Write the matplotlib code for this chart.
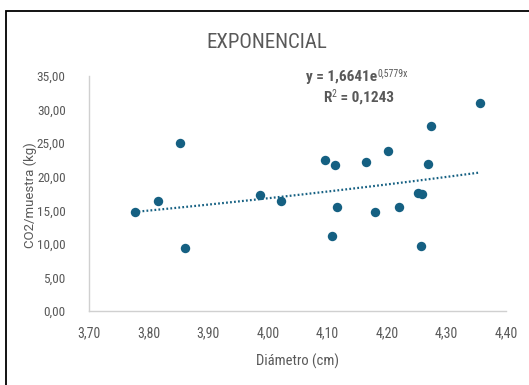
import numpy as np
import matplotlib.pyplot as plt
from matplotlib.patches import Rectangle

# data
diametro = [3.776, 3.816, 3.852, 3.860, 3.987, 4.022, 4.096, 4.113, 4.108, 4.116,
            4.165, 4.180, 4.202, 4.221, 4.252, 4.259, 4.257, 4.269, 4.274, 4.356]
co2 = [14.70, 16.35, 25.08, 9.42, 17.35, 16.45, 22.48, 21.79, 11.22, 15.45,
       22.24, 14.70, 23.83, 15.55, 17.60, 17.45, 9.72, 21.94, 27.57, 30.96]

# exponential trend y = a*e^(bx)
a_coef = 1.6641
b_coef = 0.5779

x_ticks = [3.70, 3.80, 3.90, 4.00, 4.10, 4.20, 4.30, 4.40]
y_ticks = [0, 5, 10, 15, 20, 25, 30, 35]

blue = '#156082'
gray = '#595959'
narrow = ['Roboto Condensed', 'DejaVu Sans']

fig = plt.figure(figsize=(5.29, 3.85), dpi=100)
ax = fig.add_axes([0.1688, 0.1922, 0.7877, 0.6104])

ax.scatter(diametro, co2, s=46, color=blue, zorder=3, linewidths=0)

xt = np.linspace(min(diametro), max(diametro), 100)
yt = a_coef * np.exp(b_coef * xt)
ax.plot(xt, yt, color=blue, lw=1.6, linestyle=(0, (0.8, 1.0)), zorder=2)

ax.set_xlim(3.70, 4.40)
ax.set_ylim(0, 35)
ax.set_xticks(x_ticks)
ax.set_yticks(y_ticks)
ax.set_xticklabels([f"{v:.2f}".replace('.', ',') for v in x_ticks],
                   family=narrow, fontsize=10, color=gray)
ax.set_yticklabels([f"{v:.2f}".replace('.', ',') for v in y_ticks],
                   family=narrow, fontsize=9.5, color=gray)
ax.tick_params(axis='y', length=0, pad=17)
ax.tick_params(axis='x', length=0, pad=11)

for s in ['top', 'right']:
    ax.spines[s].set_visible(False)
for s in ['left', 'bottom']:
    ax.spines[s].set_color('#d0d0d0')
    ax.spines[s].set_linewidth(1)

ax.set_xlabel('Diámetro (cm)', family=narrow, fontsize=10.5, color=gray, labelpad=10)
fig.text(30 / 529, 1 - 195 / 385, 'CO2/muestra (kg)', rotation=90, family=['Roboto', 'DejaVu Sans'],
         fontsize=9.5, color=gray, ha='center', va='center')

fig.text(267 / 529, 1 - 42 / 385, 'EXPONENCIAL', family=narrow, fontsize=15,
         color=gray, ha='center', va='center')

# equation label
t1 = fig.text(306 / 529, 1 - 77 / 385, 'y = 1,6641e', family=narrow, fontsize=11,
              fontweight='bold', color=gray, ha='left', va='center')
ax.annotate('0,5779x', xy=(1, 1), xycoords=t1, xytext=(0.3, 1.5), textcoords='offset points',
            family=narrow, fontsize=7, color=gray, ha='left', va='top')
t2 = fig.text(323 / 529, 1 - 98 / 385, 'R', family=narrow, fontsize=11,
              fontweight='bold', color=gray, ha='left', va='center')
ax.annotate('2', xy=(1, 1), xycoords=t2, xytext=(0.3, 1.5), textcoords='offset points',
            family=narrow, fontsize=7, color=gray, ha='left', va='top')
ax.annotate(' = 0,1243', xy=(1, 0.5), xycoords=t2, xytext=(4, 0), textcoords='offset points',
            family=narrow, fontsize=11, fontweight='bold', color=gray, ha='left', va='center')

# chart frame (only top and left edges visible in the crop)
fig.patches.append(Rectangle((5.5 / 529, -0.1), 1.2, 1 - 11.5 / 385 + 0.1, transform=fig.transFigure,
                             fill=False, edgecolor='black', lw=1.3))

fig.savefig('out.png', dpi=100)
